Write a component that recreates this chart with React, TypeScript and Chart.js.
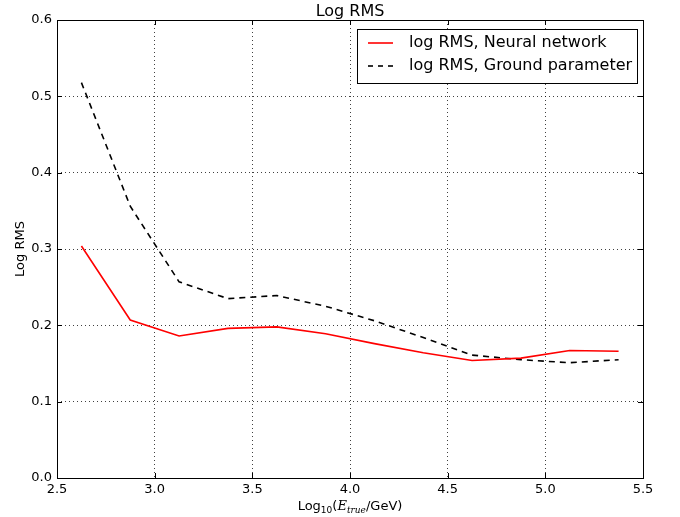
import React, { useEffect, useRef } from "react";
import { Chart, registerables } from "chart.js";

Chart.register(...registerables);

const energyBins = [2.625, 2.875, 3.125, 3.375, 3.625, 3.875, 4.125, 4.375, 4.625, 4.875, 5.125, 5.375];
const neuralNetwork = [0.304, 0.207, 0.186, 0.196, 0.198, 0.189, 0.176, 0.164, 0.154, 0.157, 0.167, 0.166];
const groundParameter = [0.518, 0.356, 0.257, 0.235, 0.239, 0.225, 0.206, 0.184, 0.161, 0.155, 0.151, 0.155];
const seriesLabels = ["log RMS, Neural network", "log RMS, Ground parameter"];
const chartTitle = "Log RMS";
const yTitle = "Log RMS";

const FONT = "'DejaVu Sans', 'Liberation Sans', sans-serif";

const framePlugin = {
  id: "mplFrame",
  afterDraw(chart: any) {
    const { ctx, chartArea: a, scales } = chart;
    ctx.save();
    // frame
    ctx.strokeStyle = "#000";
    ctx.lineWidth = 1;
    ctx.setLineDash([]);
    ctx.strokeRect(Math.round(a.left) + 0.5, Math.round(a.top) + 0.5, Math.round(a.right - a.left), Math.round(a.bottom - a.top));
    // inward ticks
    const tl = 5;
    ctx.beginPath();
    scales.x.ticks.forEach((t: any) => {
      const px = Math.round(scales.x.getPixelForValue(t.value)) + 0.5;
      ctx.moveTo(px, a.bottom);
      ctx.lineTo(px, a.bottom - tl);
      ctx.moveTo(px, a.top);
      ctx.lineTo(px, a.top + tl);
    });
    scales.y.ticks.forEach((t: any) => {
      const py = Math.round(scales.y.getPixelForValue(t.value)) + 0.5;
      ctx.moveTo(a.left, py);
      ctx.lineTo(a.left + tl, py);
      ctx.moveTo(a.right, py);
      ctx.lineTo(a.right - tl, py);
    });
    ctx.stroke();

    // title
    ctx.fillStyle = "#000";
    ctx.font = `16px ${FONT}`;
    ctx.textAlign = "center";
    ctx.textBaseline = "alphabetic";
    ctx.fillText(chartTitle, (a.left + a.right) / 2, 16);

    // y title
    ctx.save();
    ctx.translate(24, (a.top + a.bottom) / 2);
    ctx.rotate(-Math.PI / 2);
    ctx.font = `13px ${FONT}`;
    ctx.textAlign = "center";
    ctx.fillText(yTitle, 0, 0);
    ctx.restore();

    // x title: Log10(E_true/GeV)
    const parts: [string, string, number][] = [
      ["Log", `13px ${FONT}`, 0],
      ["10", `9px ${FONT}`, 3],
      ["(", `13px ${FONT}`, 0],
      ["E", `italic 13px 'DejaVu Serif', serif`, 0],
      ["true", `italic 9px 'DejaVu Serif', serif`, 3],
      ["/GeV)", `13px ${FONT}`, 0],
    ];
    ctx.textAlign = "left";
    let total = 0;
    parts.forEach(([s, f]) => {
      ctx.font = f;
      total += ctx.measureText(s).width;
    });
    let x = (a.left + a.right) / 2 - total / 2;
    const base = 510;
    parts.forEach(([s, f, dy]) => {
      ctx.font = f;
      ctx.fillText(s, x, base + dy);
      x += ctx.measureText(s).width;
    });

    // legend
    const lx = 357.5, ly = 29.5, lw = 280, lh = 54;
    ctx.fillStyle = "#fff";
    ctx.fillRect(lx, ly, lw, lh);
    ctx.strokeStyle = "#000";
    ctx.lineWidth = 1;
    ctx.strokeRect(lx, ly, lw, lh);
    const rows = [
      { y: 43, color: "#ff0000", dash: [] as number[] },
      { y: 66, color: "#000000", dash: [5, 5] },
    ];
    rows.forEach((r, i) => {
      ctx.strokeStyle = r.color;
      ctx.lineWidth = 1.6;
      ctx.setLineDash(r.dash);
      ctx.beginPath();
      ctx.moveTo(368, r.y);
      ctx.lineTo(393, r.y);
      ctx.stroke();
      ctx.setLineDash([]);
      ctx.fillStyle = "#000";
      ctx.font = `16px ${FONT}`;
      ctx.textAlign = "left";
      ctx.textBaseline = "middle";
      ctx.fillText(seriesLabels[i], 409, r.y);
    });
    ctx.restore();
  },
};

export default function App() {
  const ref = useRef<HTMLCanvasElement | null>(null);
  useEffect(() => {
    if (!ref.current) return;
    const chart = new Chart(ref.current, {
      type: "line",
      data: {
        datasets: [
          {
            label: seriesLabels[0],
            data: energyBins.map((x, i) => ({ x, y: neuralNetwork[i] })),
            borderColor: "#ff0000",
            borderWidth: 1.6,
            pointRadius: 0,
            fill: false,
            tension: 0,
          },
          {
            label: seriesLabels[1],
            data: energyBins.map((x, i) => ({ x, y: groundParameter[i] })),
            borderColor: "#000000",
            borderWidth: 1.6,
            borderDash: [6, 5],
            pointRadius: 0,
            fill: false,
            tension: 0,
          },
        ],
      },
      options: {
        animation: false,
        responsive: false,
        maintainAspectRatio: false,
        layout: { padding: { top: 20, right: 37, left: 0, bottom: 0 } },
        plugins: { legend: { display: false }, title: { display: false }, tooltip: { enabled: false } },
        scales: {
          x: {
            type: "linear",
            min: 2.5,
            max: 5.5,
            afterFit: (s: any) => { s.height = 39; },
            ticks: {
              stepSize: 0.5,
              padding: 4,
              color: "#000",
              font: { family: FONT, size: 13 },
              callback: (v: any) => Number(v).toFixed(1),
              maxRotation: 0,
            },
            grid: { color: "rgba(0,0,0,0.75)", lineWidth: 1, drawTicks: false } as any,
            border: { display: false, dash: [1, 3] },
          },
          y: {
            min: 0,
            max: 0.6,
            afterFit: (s: any) => { s.width = 57; },
            ticks: {
              stepSize: 0.1,
              padding: 5,
              color: "#000",
              font: { family: FONT, size: 13 },
              callback: (v: any) => Number(v).toFixed(1),
            },
            grid: { color: "rgba(0,0,0,0.75)", lineWidth: 1, drawTicks: false } as any,
            border: { display: false, dash: [1, 3] },
          },
        },
      },
      plugins: [framePlugin],
    });
    return () => chart.destroy();
  }, []);
  return (
    <div style={{ position: "fixed", left: 0, top: 0, width: 680, height: 517, background: "#fff" }}>
      <canvas ref={ref} width={680} height={517} style={{ width: 680, height: 517 }} />
    </div>
  );
}
